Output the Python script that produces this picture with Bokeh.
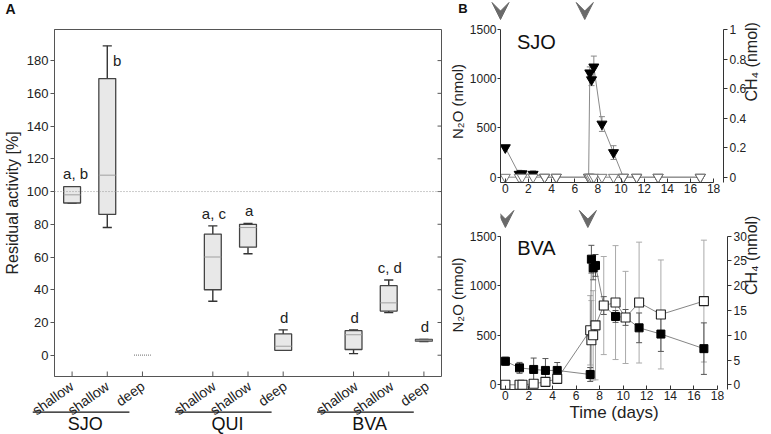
import math
from bokeh.plotting import figure
from bokeh.models import (Range1d, LinearAxis, FixedTicker, Span, Label, Whisker, TeeHead,
                          ColumnDataSource, Arrow, VeeHead)
from bokeh.layouts import row, column
from bokeh.embed import file_html
from bokeh.resources import INLINE
from bokeh.core.properties import value

FONT = "Liberation Sans"
TXT = "#222222"
AX = "#333333"

# ---------------- data: panel A ----------------
sites = ["SJO", "QUI", "BVA"]
sample_labels = ["shallow", "shallow", "deep",
                 "shallow", "shallow", "deep",
                 "shallow", "shallow", "deep"]
box_q1 = [93, 86, 0, 40, 66, 3, 3.5, 27, 8.6]
box_q3 = [103, 169, 0, 74, 80, 13, 15, 42.5, 9.6]
box_median = [98, 110, 0, 60, 78, 5.5, 12.5, 32, 9.2]
whisker_low = [93, 78, 0, 33, 62, 3, 1, 26, 8.3]
whisker_high = [103, 189, 0, 79, 80.5, 15.5, 15.5, 46, 9.6]
group_letters = ["a, b", "b", "", "a, c", "a", "d", "d", "c, d", "d"]
residual_ticks = [0, 20, 40, 60, 80, 100, 120, 140, 160, 180]
reference_level = 100

# ---------------- data: panel B ----------------
time_ticks = [0, 2, 4, 6, 8, 10, 12, 14, 16, 18]
n2o_ticks = [0, 500, 1000, 1500]
addition_days = [0, 7]

sjo_days = [0, 1.2, 1.45, 2.4, 3.4, 4.4, 7.2, 7.3, 7.45, 7.65, 8.35, 9.35, 10.2, 11.35, 13.2, 16.85]
sjo_n2o = [300, 30, 35, 30, 0, 0, 0, 1060, 990, 1120, 540, 250, 0, 0, 0, 0]
sjo_n2o_err = [0, 40, 30, 35, 0, 0, 0, 60, 60, 110, 75, 70, 0, 0, 0, 0]
sjo_ch4 = [0, 0, 0, 0, 0, 0, 0, 0, 0, 0, 0, 0, 0, 0, 0, 0]
sjo_ch4_ticks = [0, 0.2, 0.4, 0.6, 0.8, 1]

bva_n2o_days = [0, 1.2, 2.4, 3.4, 4.4, 7.2, 7.3, 7.45, 7.65, 8.35, 9.35, 10.2, 11.35, 13.2, 16.85]
bva_n2o = [238, 171, 155, 145, 145, 104, 1268, 1180, 1205, 800, 690, 680, 575, 512, 365]
bva_n2o_err = [40, 55, 115, 120, 80, 70, 140, 120, 110, 90, 60, 80, 150, 175, 260]
bva_ch4_days = [0, 1.2, 1.45, 2.4, 3.4, 4.4, 7.2, 7.3, 7.45, 7.65, 8.35, 9.35, 10.2, 11.35, 13.2, 16.85]
bva_ch4 = [0, 0, 0, 0.2, 0.6, 1.2, 11, 9, 10, 12, 16, 16.6, 13.6, 16.6, 14.2, 16.9]
bva_ch4_err = [0, 0, 0, 0.2, 0.4, 0.8, 7, 8, 9, 11, 9.9, 11.5, 9.3, 12.2, 11, 12.3]
bva_ch4_ticks = [0, 5, 10, 15, 20, 25, 30]


def strip(width, height, xr):
    s = figure(width=width, height=height, x_range=xr, y_range=Range1d(0, height),
               output_backend="svg", toolbar_location=None, frame_align=False,
               x_axis_location=None, y_axis_location=None,
               min_border=0, min_border_left=0, min_border_right=0,
               min_border_top=0, min_border_bottom=0)
    s.grid.visible = False
    s.outline_line_color = None
    return s


# ================= panel A =================
positions = [g * 4 + j + 1 for g in range(len(sites)) for j in range(3)]

TOP_H = 20
A_W = 445
A_H = 358
A_L, A_R, A_T, A_B = 50, 4, 9, 2
ax0, ax1 = 0.5, 11.5
ay0, ay1 = -13, 199
kx = (A_W - A_L - A_R) / (ax1 - ax0)
ky = (A_H - A_T - A_B) / (ay1 - ay0)

pTA = strip(A_W, TOP_H, Range1d(0, A_W))
pTA.text(x=[10], y=[TOP_H - 8.5], text=["A"], text_align="center", text_baseline="middle",
         text_font=value(FONT), text_font_size="14px", text_font_style="bold", text_color="#111111")

pA = figure(width=A_W, height=A_H, x_range=Range1d(ax0, ax1), y_range=Range1d(ay0, ay1),
            output_backend="svg", toolbar_location=None, x_axis_location=None, frame_align=False,
            min_border_left=A_L, min_border_right=A_R, min_border_top=A_T, min_border_bottom=A_B)
pA.grid.visible = False
pA.outline_line_color = "#555555"
pA.outline_line_width = 1

ya = pA.yaxis[0]
ya.ticker = FixedTicker(ticks=residual_ticks)
ya.major_tick_out = 4
ya.major_tick_in = 0
ya.minor_tick_out = 0
ya.minor_tick_in = 0
ya.axis_line_color = "#555555"
ya.major_tick_line_color = "#555555"
ya.major_label_text_font = FONT
ya.major_label_text_font_size = "13px"
ya.major_label_text_color = TXT
ya.major_label_standoff = 2
ya.axis_label = "Residual activity [%]"
ya.axis_label_text_font = FONT
ya.axis_label_text_font_size = "16px"
ya.axis_label_text_font_style = "normal"
ya.axis_label_text_color = TXT
ya.axis_label_standoff = 3

# inner ticks on bottom (categories) and right (value) edges of the frame
pA.segment(x0=positions, y0=[ay0] * len(positions), x1=positions,
           y1=[ay0 + 5 / ky] * len(positions), line_color="#555555", line_width=1)
pA.segment(x0=[ax1 - 4 / kx] * len(residual_ticks), y0=residual_ticks,
           x1=[ax1] * len(residual_ticks), y1=residual_ticks, line_color="#555555", line_width=1)

pA.add_layout(Span(location=reference_level, dimension="width", line_color="#999999",
                   line_dash="1 2", line_width=1))

bw = 0.48
cw = 0.26
keep = [i for i in range(len(positions)) if box_q3[i] > box_q1[i]]
src_box = ColumnDataSource(dict(
    x=[positions[i] for i in keep],
    xl=[positions[i] - bw / 2 for i in keep],
    xr=[positions[i] + bw / 2 for i in keep],
    cl=[positions[i] - cw / 2 for i in keep],
    cr=[positions[i] + cw / 2 for i in keep],
    q1=[box_q1[i] for i in keep],
    q3=[box_q3[i] for i in keep],
    med=[box_median[i] for i in keep],
    lo=[whisker_low[i] for i in keep],
    hi=[whisker_high[i] for i in keep],
))

wcol = "#333333"
pA.segment(x0="x", y0="q3", x1="x", y1="hi", source=src_box, line_color=wcol, line_width=1.4)
pA.segment(x0="x", y0="q1", x1="x", y1="lo", source=src_box, line_color=wcol, line_width=1.4)
pA.segment(x0="cl", y0="hi", x1="cr", y1="hi", source=src_box, line_color=wcol, line_width=1.4)
pA.segment(x0="cl", y0="lo", x1="cr", y1="lo", source=src_box, line_color=wcol, line_width=1.4)
pA.vbar(x="x", top="q3", bottom="q1", width=bw, source=src_box, fill_color="#e8e8e8",
        line_color="#444444", line_width=1.3)
pA.segment(x0="xl", y0="med", x1="xr", y1="med", source=src_box, line_color="#a0a0a0", line_width=1)

# zero-spread group drawn as a dotted line
flat = [i for i in range(len(positions)) if box_q3[i] <= box_q1[i]]
pA.segment(x0=[positions[i] - bw / 2 for i in flat], y0=[box_median[i] for i in flat],
           x1=[positions[i] + bw / 2 for i in flat], y1=[box_median[i] for i in flat],
           line_color="#888888", line_dash="1 1", line_width=1.2)

# significance letters
lx, ly = [], []
for i, (p, hi) in enumerate(zip(positions, whisker_high)):
    if i == 1:
        lx.append(p + 0.28)
        ly.append(hi - 9)
    else:
        lx.append(p + (0.1 if i == 0 else 0.03))
        ly.append(hi + 7.8)
pA.text(x=lx, y=ly, text=group_letters, text_align="center", text_baseline="middle",
        text_font=value(FONT), text_font_size="15px", text_color=TXT)

# labels strip under panel A
L_H = 434 - TOP_H - A_H
pL = strip(A_W, L_H, Range1d(ax0 - A_L / kx, ax1 + A_R / kx))
pL.text(x=[p + 0.1 for p in positions], y=[L_H - 6] * len(positions), text=sample_labels,
        angle=0.62, text_align="right", text_baseline="middle",
        text_font=value(FONT), text_font_size="14px", text_color=TXT)
g_start = [positions[g * 3] - 1.0 for g in range(len(sites))]
g_end = [positions[g * 3 + 2] - 0.28 for g in range(len(sites))]
pL.segment(x0=g_start, y0=[22.3] * 3, x1=g_end, y1=[22.3] * 3, line_color="#111111", line_width=1.3)
pL.text(x=[(a + b) / 2 + 0.12 for a, b in zip(g_start, g_end)], y=[11] * 3, text=sites,
        text_align="center", text_baseline="middle",
        text_font=value(FONT), text_font_size="18px", text_color="#111111")


# ================= panel B =================
B_W = 771 - A_W
B_L, B_R = 50, 44
ppd = 12.04
day0_page = 500.0
frame_left = A_W + B_L
frame_right = A_W + B_W - B_R
x_start = (frame_left - day0_page) / ppd
x_end = x_start + (frame_right - frame_left) / ppd


def add_arrows(p, tip, base):
    asrc = ColumnDataSource(dict(x0=addition_days, x1=addition_days,
                                 y0=[base] * len(addition_days), y1=[tip] * len(addition_days)))
    p.add_layout(Arrow(x_start="x0", y_start="y0", x_end="x1", y_end="y1", source=asrc,
                       line_alpha=0, line_width=0,
                       end=VeeHead(size=17, fill_color="#6a6a6a", line_color="#6a6a6a", line_width=1)))


def time_panel(page_top, height, b_bottom, zero_page, top1500_page, ch4_max, ch4_ticks,
               arrow_tip_page, show_xlabel):
    frame_top = page_top
    frame_bottom = page_top + height - b_bottom
    ppu = (zero_page - top1500_page) / 1500.0
    y_start = -(frame_bottom - zero_page) / ppu
    y_end = y_start + (frame_bottom - frame_top) / ppu
    f = ch4_max / 1500.0
    p = figure(width=B_W, height=height, x_range=Range1d(x_start, x_end),
               y_range=Range1d(y_start, y_end), output_backend="svg", toolbar_location=None,
               frame_align=False,
               min_border_left=B_L, min_border_right=B_R, min_border_top=0,
               min_border_bottom=b_bottom)
    p.extra_y_ranges = {"ch4": Range1d(y_start * f, y_end * f)}
    p.grid.visible = False
    p.outline_line_color = None

    xa = p.xaxis[0]
    xa.ticker = FixedTicker(ticks=time_ticks)
    xa.bounds = (x_start, 18)
    xa.major_tick_in = 4
    xa.major_tick_out = 0
    xa.minor_tick_in = 0
    xa.minor_tick_out = 0
    xa.axis_line_color = AX
    xa.major_tick_line_color = AX
    xa.major_label_text_font = FONT
    xa.major_label_text_font_size = "12px"
    xa.major_label_text_color = TXT
    xa.major_label_standoff = 1
    if show_xlabel:
        xa.axis_label = "Time (days)"
        xa.axis_label_text_font = FONT
        xa.axis_label_text_font_size = "17px"
        xa.axis_label_text_font_style = "normal"
        xa.axis_label_text_color = TXT
        xa.axis_label_standoff = 0

    ya = p.yaxis[0]
    ya.ticker = FixedTicker(ticks=n2o_ticks)
    ya.bounds = (y_start, 1500)
    ya.major_tick_out = 3
    ya.major_tick_in = 0
    ya.minor_tick_in = 0
    ya.minor_tick_out = 0
    ya.axis_line_color = AX
    ya.major_tick_line_color = AX
    ya.major_label_text_font = FONT
    ya.major_label_text_font_size = "12px"
    ya.major_label_text_color = TXT
    ya.major_label_standoff = 1
    ya.axis_label = "N₂O (nmol)"
    ya.axis_label_text_font = FONT
    ya.axis_label_text_font_size = "15px"
    ya.axis_label_text_font_style = "normal"
    ya.axis_label_text_color = TXT
    ya.axis_label_standoff = 1

    ra = LinearAxis(y_range_name="ch4", ticker=FixedTicker(ticks=ch4_ticks),
                    bounds=(y_start * f, ch4_max))
    ra.major_tick_out = 4
    ra.major_tick_in = 0
    ra.minor_tick_in = 0
    ra.minor_tick_out = 0
    ra.axis_line_color = AX
    ra.major_tick_line_color = AX
    ra.major_label_text_font = FONT
    ra.major_label_text_font_size = "12px"
    ra.major_label_text_color = TXT
    ra.major_label_standoff = 2
    ra.major_label_overrides = {0: "0", 1: "1"}
    ra.axis_label = "CH₄ (nmol)"
    ra.axis_label_text_font = FONT
    ra.axis_label_text_font_size = "16px"
    ra.axis_label_text_font_style = "normal"
    ra.axis_label_text_color = TXT
    ra.axis_label_standoff = 2
    ra.axis_label_orientation = math.pi / 2
    p.add_layout(ra, "right")

    if arrow_tip_page is not None:
        tip = y_start + (frame_bottom - arrow_tip_page) / ppu
        add_arrows(p, tip, tip + 30 / ppu)
    return p, ppu


# strip above the SJO panel: panel letter and addition arrows
pTB = strip(B_W, TOP_H, Range1d((A_W - day0_page) / ppd, (A_W + B_W - day0_page) / ppd))
pTB.text(x=[(462.5 - day0_page) / ppd], y=[TOP_H - 7.5], text=["B"], text_align="center",
         text_baseline="middle", text_font=value(FONT), text_font_size="13px",
         text_font_style="bold", text_color="#111111")
add_arrows(pTB, 1, TOP_H + 10)

pB1, b1_ppu = time_panel(TOP_H, 200 - TOP_H, 18, 176.7, 29.0, 1, sjo_ch4_ticks, None, False)
pB2, b2_ppu = time_panel(200, 234, 45, 384.3, 235.7, 30, bva_ch4_ticks, 227, True)

# SJO panel
s_err = ColumnDataSource(dict(x=sjo_days, up=[v + e for v, e in zip(sjo_n2o, sjo_n2o_err)],
                              lo=[v - e for v, e in zip(sjo_n2o, sjo_n2o_err)]))
pB1.add_layout(Whisker(base="x", upper="up", lower="lo", source=s_err, line_color="#888888",
                       line_width=1,
                       upper_head=TeeHead(size=6, line_color="#888888", line_width=1),
                       lower_head=TeeHead(size=6, line_color="#888888", line_width=1)))
pB1.line(sjo_days, sjo_n2o, line_color="#8a8a8a", line_width=1)
pB1.line(sjo_days, sjo_ch4, y_range_name="ch4", line_color="#8a8a8a", line_width=1)
pB1.scatter(sjo_days, sjo_n2o, marker="inverted_triangle", size=10, fill_color="black",
            line_color="black")
pB1.scatter(sjo_days, sjo_ch4, y_range_name="ch4", marker="inverted_triangle", size=10,
            fill_color="white", line_color="#777777", line_width=1)
pB1.add_layout(Label(x=1.0, y=1500 - 1 / b1_ppu, text="SJO", text_font=FONT, text_font_size="20px",
                     text_color="#111111", text_baseline="top", text_align="left"))

# BVA panel
b_err = ColumnDataSource(dict(x=bva_ch4_days, up=[v + e for v, e in zip(bva_ch4, bva_ch4_err)],
                              lo=[v - e for v, e in zip(bva_ch4, bva_ch4_err)]))
pB2.add_layout(Whisker(base="x", upper="up", lower="lo", source=b_err, y_range_name="ch4",
                       line_color="#aaaaaa", line_width=1,
                       upper_head=TeeHead(size=6, line_color="#aaaaaa", line_width=1),
                       lower_head=TeeHead(size=6, line_color="#aaaaaa", line_width=1)))
n_err = ColumnDataSource(dict(x=bva_n2o_days, up=[v + e for v, e in zip(bva_n2o, bva_n2o_err)],
                              lo=[v - e for v, e in zip(bva_n2o, bva_n2o_err)]))
pB2.add_layout(Whisker(base="x", upper="up", lower="lo", source=n_err,
                       line_color="#555555", line_width=1,
                       upper_head=TeeHead(size=6, line_color="#555555", line_width=1),
                       lower_head=TeeHead(size=6, line_color="#555555", line_width=1)))
pB2.line(bva_n2o_days, bva_n2o, line_color="#777777", line_width=0.9)
pB2.line(bva_ch4_days, bva_ch4, y_range_name="ch4", line_color="#777777", line_width=0.9)
pB2.scatter(bva_n2o_days, bva_n2o, marker="square", size=8, fill_color="black", line_color="black")
pB2.scatter(bva_ch4_days, bva_ch4, y_range_name="ch4", marker="square", size=9,
            fill_color="white", line_color="#222222", line_width=1.1)
pB2.add_layout(Label(x=1.0, y=1500 - 1 / b2_ppu, text="BVA", text_font=FONT, text_font_size="20px",
                     text_color="#111111", text_baseline="top", text_align="left"))

layout = row(column(pTA, pA, pL, spacing=0), column(pTB, pB1, pB2, spacing=0), spacing=0)
open("out.html", "w").write(file_html(layout, INLINE))
